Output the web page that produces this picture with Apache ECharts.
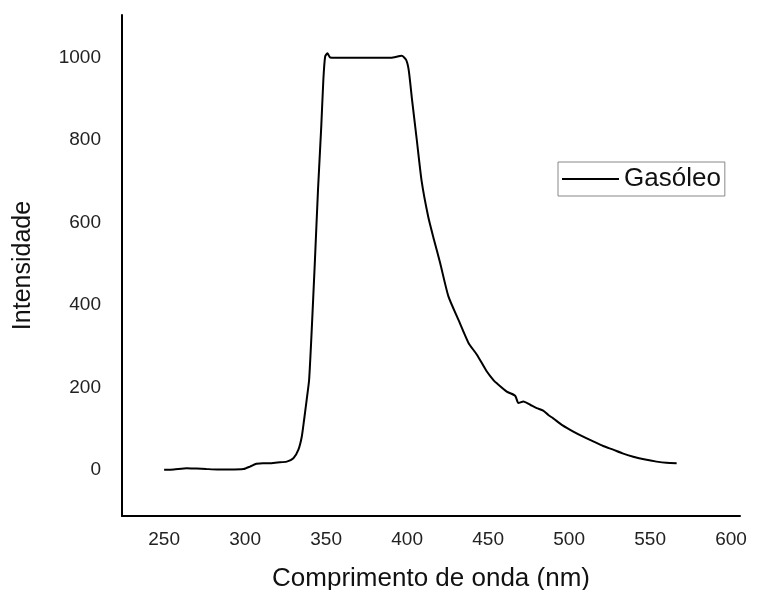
<!DOCTYPE html>
<html>
<head>
<meta charset="utf-8">
<script src="https://cdn.jsdelivr.net/npm/echarts@6/dist/echarts.min.js"></script>
<style>
  html, body { margin: 0; padding: 0; background: #fff; }
  #chart { width: 758px; height: 590px; }
</style>
</head>
<body>
<div id="chart"></div>
<script>
// comprimento de onda (nm)
var wavelength = [250, 256, 264, 270, 276, 283, 290, 299, 303, 307, 311, 315, 320, 325.7, 329.8, 332.9, 335, 336.4, 338, 339.5,
  341, 343, 345, 347, 348.3, 349.4, 350.8, 352.5, 360, 370, 380, 390, 396.7, 399.4, 401, 403, 406, 409, 413, 416.5,
  420.4, 425.5, 431.7, 437.9, 443, 449, 453.3, 455.4, 461.5, 466.7, 468.7, 471.8, 476, 480, 484, 487.2, 490.2, 496,
  502.6, 509, 514.9, 521, 527.2, 533, 539.6, 547, 554, 560, 566.4];
// intensidade
var intensity = [0, 1, 4, 3, 2, 1, 1, 2, 8, 15, 16, 16, 18, 20, 28, 49, 81, 121, 170, 218,
  330, 500, 680, 833, 947, 1003, 1011, 1001, 1000, 1000, 1000, 1000, 1005, 995, 970, 900, 800, 700, 615, 560,
  502, 421, 364, 308, 280, 240, 218, 210, 190, 180, 162, 166, 158, 150, 144, 133, 125, 108,
  93, 80, 69, 58, 49, 40, 32, 25, 20, 17, 16];
var xTicks = [250, 300, 350, 400, 450, 500, 550, 600];
var yTicks = [0, 200, 400, 600, 800, 1000];

var pts = [];
for (var i = 0; i < wavelength.length; i++) {
  pts.push([wavelength[i], intensity[i]]);
}

var chart = echarts.init(document.getElementById('chart'));
var font = 'Liberation Sans, Arial, sans-serif';
var option = {
  animation: false,
  textStyle: { fontFamily: font },
  grid: { left: 122, right: 18, top: 15, bottom: 74, outerBoundsMode: 'none', containLabel: false },
  legend: {
    data: ['Gasóleo'],
    left: 558,
    top: 162,
    padding: [4, 4, 4, 4],
    borderColor: '#888',
    borderWidth: 1,
    icon: 'rect',
    itemWidth: 57,
    itemHeight: 2,
    itemGap: 6,
    itemStyle: { color: '#000' },
    textStyle: { fontSize: 26, color: '#111', fontFamily: font }
  },
  xAxis: {
    type: 'value',
    min: 224,
    max: 605.5,
    name: 'Comprimento de onda (nm)',
    nameLocation: 'middle',
    nameGap: 50,
    nameTextStyle: { fontSize: 26, color: '#111', fontFamily: font },
    axisLine: { onZero: false, lineStyle: { color: '#000', width: 2 } },
    axisTick: { show: false },
    splitLine: { show: false },
    axisLabel: { customValues: xTicks, fontSize: 19, color: '#222', margin: 14, fontFamily: font }
  },
  yAxis: {
    type: 'value',
    min: -112,
    max: 1104,
    name: 'Intensidade',
    nameLocation: 'middle',
    nameGap: 86,
    nameTextStyle: { fontSize: 25, color: '#111', fontFamily: font },
    axisLine: { show: true, onZero: false, lineStyle: { color: '#000', width: 2 } },
    axisTick: { show: false },
    splitLine: { show: false },
    axisLabel: {
      customValues: yTicks, fontSize: 19, color: '#222', margin: 21, fontFamily: font,
      formatter: function (v) { return String(v); }
    }
  },
  series: [{
    name: 'Gasóleo',
    type: 'line',
    data: pts,
    symbol: 'none',
    smooth: 0.2,
    lineStyle: { color: '#000', width: 2 },
    itemStyle: { color: '#000' }
  }]
};
chart.setOption(option);
</script>
</body>
</html>
